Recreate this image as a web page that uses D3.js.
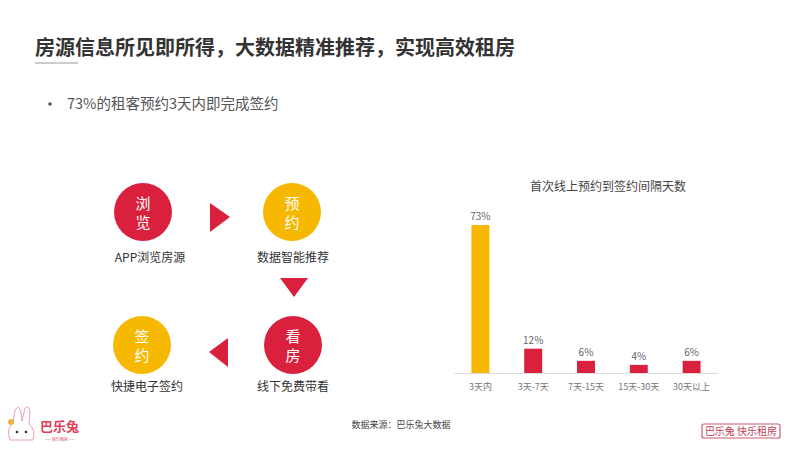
<!DOCTYPE html>
<html>
<head>
<meta charset="utf-8">
<script src="https://cdn.jsdelivr.net/npm/d3@7"></script>
<style>
  body { margin: 0; background: #fff; }
  svg { display: block; font-family: "Noto Sans CJK SC", "Noto Sans", sans-serif; }
</style>
</head>
<body>
<div id="chart"></div>
<script>
// chart data
var categories = ["3天内", "3天-7天", "7天-15天", "15天-30天", "30天以上"];
var values = [73, 12, 6, 4, 6];
var valueLabels = ["73%", "12%", "6%", "4%", "6%"];

// flow steps
var stepChars = [["浏", "览"], ["预", "约"], ["看", "房"], ["签", "约"]];
var stepLabels = ["APP浏览房源", "数据智能推荐", "线下免费带看", "快捷电子签约"];

var RED = "#d9213d", YELLOW = "#f6b800";

var svg = d3.select("#chart").append("svg")
    .attr("width", 800)
    .attr("height", 450);

// title
svg.append("text")
    .attr("x", 35).attr("y", 55)
    .attr("font-size", "20px").attr("font-weight", "bold")
    .attr("fill", "#333")
    .text("房源信息所见即所得，大数据精准推荐，实现高效租房");
svg.append("line")
    .attr("x1", 35).attr("x2", 78).attr("y1", 63).attr("y2", 63)
    .attr("stroke", "#bbb").attr("stroke-width", 1.5);

// bullet
svg.append("circle")
    .attr("cx", 50).attr("cy", 104).attr("r", 1.8)
    .attr("fill", "#555");
svg.append("text")
    .attr("x", 67).attr("y", 109)
    .attr("font-size", "14.5px").attr("fill", "#555")
    .text("73%的租客预约3天内即完成签约");

// flow diagram
var stepPos = [[143, 212], [292, 212], [293, 345], [142, 345]];
var stepColor = [RED, YELLOW, RED, YELLOW];
var labelPos = [[150, 262], [293, 262], [293, 391], [147, 391]];

var steps = svg.selectAll("g.step")
    .data(stepChars)
    .enter()
    .append("g")
    .attr("class", "step")
    .attr("transform", function (d, i) {
        return "translate(" + stepPos[i][0] + "," + stepPos[i][1] + ")";
    });
steps.append("circle")
    .attr("r", 29)
    .attr("fill", function (d, i) { return stepColor[i]; });
steps.append("text")
    .attr("text-anchor", "middle")
    .attr("y", -3)
    .attr("font-size", "15px")
    .attr("fill", "#fff")
    .text(function (d) { return d[0]; });
steps.append("text")
    .attr("text-anchor", "middle")
    .attr("y", 16)
    .attr("font-size", "15px")
    .attr("fill", "#fff")
    .text(function (d) { return d[1]; });

svg.selectAll("text.steplabel")
    .data(stepLabels)
    .enter()
    .append("text")
    .attr("class", "steplabel")
    .attr("x", function (d, i) { return labelPos[i][0]; })
    .attr("y", function (d, i) { return labelPos[i][1]; })
    .attr("text-anchor", "middle")
    .attr("font-size", "12px")
    .attr("fill", "#333")
    .text(function (d) { return d; });

// arrows
var arrows = [
    "M210,203 L230,217 L210,232 Z",
    "M280,278 L308,278 L294,297 Z",
    "M228,338 L228,367 L209,352 Z"
];
svg.selectAll("path.arrow")
    .data(arrows)
    .enter()
    .append("path")
    .attr("class", "arrow")
    .attr("d", function (d) { return d; })
    .attr("fill", RED);

// bar chart
var x = d3.scaleBand()
    .domain(categories)
    .range([454, 718])
    .paddingInner(0.66)
    .paddingOuter(0.33);
var y = d3.scaleLinear()
    .domain([0, 73])
    .range([373, 225]);

svg.append("text")
    .attr("x", 608).attr("y", 191)
    .attr("text-anchor", "middle")
    .attr("font-size", "12px")
    .attr("fill", "#444")
    .text("首次线上预约到签约间隔天数");

svg.selectAll("rect.bar")
    .data(values)
    .enter()
    .append("rect")
    .attr("class", "bar")
    .attr("x", function (d, i) { return x(categories[i]); })
    .attr("y", function (d) { return y(d); })
    .attr("width", x.bandwidth())
    .attr("height", function (d) { return y(0) - y(d); })
    .attr("fill", function (d, i) { return i === 0 ? YELLOW : RED; });

svg.selectAll("text.val")
    .data(values)
    .enter()
    .append("text")
    .attr("class", "val")
    .attr("x", function (d, i) { return x(categories[i]) + x.bandwidth() / 2; })
    .attr("y", function (d) { return y(d) - 5; })
    .attr("text-anchor", "middle")
    .attr("font-size", "10px")
    .attr("fill", "#666")
    .text(function (d, i) { return valueLabels[i]; });

var xAxis = svg.append("g")
    .attr("transform", "translate(0," + y(0) + ")")
    .call(d3.axisBottom(x).tickSize(0).tickPadding(11));
xAxis.select(".domain").attr("stroke", "#ddd");
xAxis.selectAll("text")
    .attr("font-size", "9px")
    .attr("fill", "#777")
    .attr("font-family", "Noto Sans CJK SC, sans-serif");

// footer
svg.append("text")
    .attr("x", 401).attr("y", 428)
    .attr("text-anchor", "middle")
    .attr("font-size", "9px")
    .attr("fill", "#444")
    .text("数据来源：巴乐兔大数据");

// left logo
var logo = svg.append("g");
logo.append("path")
    .attr("d", "M10,440 Q6,428 13,423 L15,410 Q19,404 21,412 L22,421 L25,408 Q29,404 30,412 L29,424 Q36,430 33,440 Z")
    .attr("fill", "#fff").attr("stroke", "#f0a0b0").attr("stroke-width", 1);
logo.append("circle").attr("cx", 17).attr("cy", 432).attr("r", 1.3).attr("fill", "#333");
logo.append("circle").attr("cx", 26).attr("cy", 432).attr("r", 1.3).attr("fill", "#333");
logo.append("circle").attr("cx", 11).attr("cy", 422).attr("r", 3).attr("fill", "#f5b040");
logo.append("text")
    .attr("x", 40).attr("y", 431)
    .attr("font-size", "13px").attr("font-weight", "bold")
    .attr("fill", "#e0405a")
    .text("巴乐兔");
logo.append("text")
    .attr("x", 60).attr("y", 441)
    .attr("text-anchor", "middle")
    .attr("font-size", "4px")
    .attr("fill", "#e0405a")
    .text("—— 快乐租房 ——");

// right logo
svg.append("rect")
    .attr("x", 702).attr("y", 424)
    .attr("width", 78).attr("height", 14)
    .attr("rx", 2)
    .attr("fill", "none")
    .attr("stroke", "#c85a70").attr("stroke-width", 1.2);
svg.append("text")
    .attr("x", 741).attr("y", 435)
    .attr("text-anchor", "middle")
    .attr("font-size", "10px")
    .attr("fill", "#c0405a")
    .text("巴乐兔 快乐租房");
</script>
</body>
</html>
